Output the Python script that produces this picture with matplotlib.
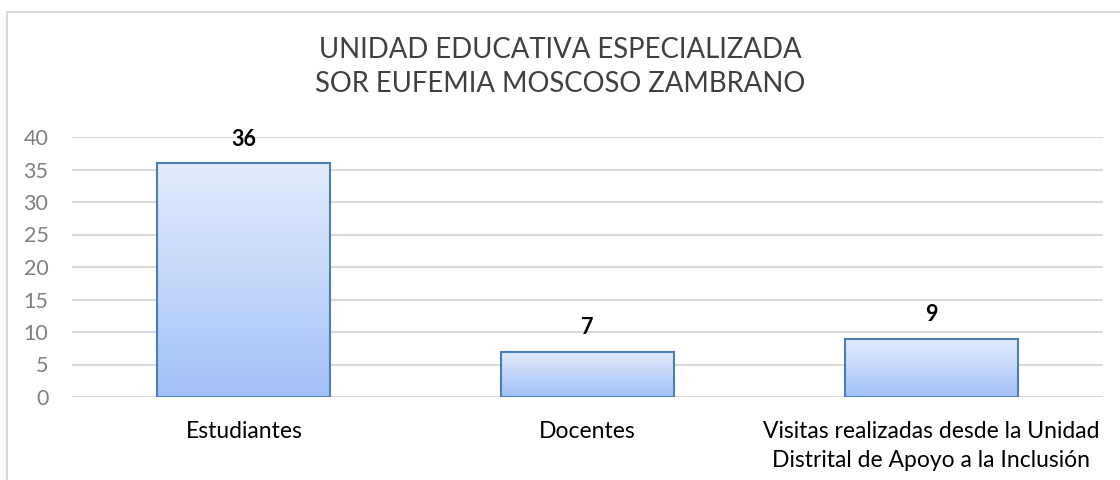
import numpy as np
import matplotlib.pyplot as plt
from matplotlib.patches import Rectangle
from matplotlib.colors import LinearSegmentedColormap

plt.rcParams['font.family'] = ['Lato', 'DejaVu Sans']

categories = ['Estudiantes', 'Docentes',
              'Visitas realizadas desde la Unidad\nDistrital de Apoyo a la Inclusión']
values = [36, 7, 9]
yticks = [0, 5, 10, 15, 20, 25, 30, 35, 40]
title = 'UNIDAD EDUCATIVA ESPECIALIZADA\nSOR EUFEMIA MOSCOSO ZAMBRANO'

W, H = 1120, 480
fig = plt.figure(figsize=(W / 100, H / 100), dpi=100)
ax = fig.add_axes([72 / W, (H - 397) / H, (1103 - 72) / W, (397 - 137) / H])

x = np.arange(len(categories))
bar_w = 0.503
bars = ax.bar(x, values, width=bar_w, facecolor='none', edgecolor='#4A7EBB',
              linewidth=1.5, zorder=3)

# vertical gradient inside each bar
grad = np.linspace(0, 1, 256).reshape(-1, 1)
cmap = LinearSegmentedColormap.from_list('g', ['#A3C1F7', '#E2ECFC'])
for b in bars:
    x0, w, h = b.get_x(), b.get_width(), b.get_height()
    ax.imshow(grad, extent=[x0, x0 + w, 0, h], origin='lower', aspect='auto',
              cmap=cmap, zorder=2, interpolation='bicubic')
    ax.annotate(str(int(h)), (x0 + w / 2, h), xytext=(0, 12.5),
                textcoords='offset points', ha='center', va='baseline',
                fontsize=15.5, fontweight='bold', color='black')

ax.set_xlim(-0.5, len(categories) - 0.5)
ax.set_ylim(0, 40)
ax.set_yticks(yticks)
ax.set_xticks(x)
ax.set_xticklabels(categories, fontsize=16.5, color='black', linespacing=1.5)
ax.tick_params(axis='y', length=0, pad=17, labelsize=15.5, labelcolor='#7F7F7F')
ax.tick_params(axis='x', length=0, pad=17)
ax.grid(axis='y', color='#D9D9D9', linewidth=1.5, zorder=0)
ax.set_axisbelow(True)
for s in ax.spines.values():
    s.set_visible(False)

fig.text(0.5, (H - 67) / H, title, ha='center', va='center', fontsize=19.8,
         color='#404040', linespacing=1.38)

fig.add_artist(Rectangle((7 / W, -0.1), 1.2, (H - 12) / H + 0.1,
                         transform=fig.transFigure, fill=False,
                         edgecolor='#D9D9D9', linewidth=1.5))

fig.savefig('out.png', dpi=100, facecolor='white')
